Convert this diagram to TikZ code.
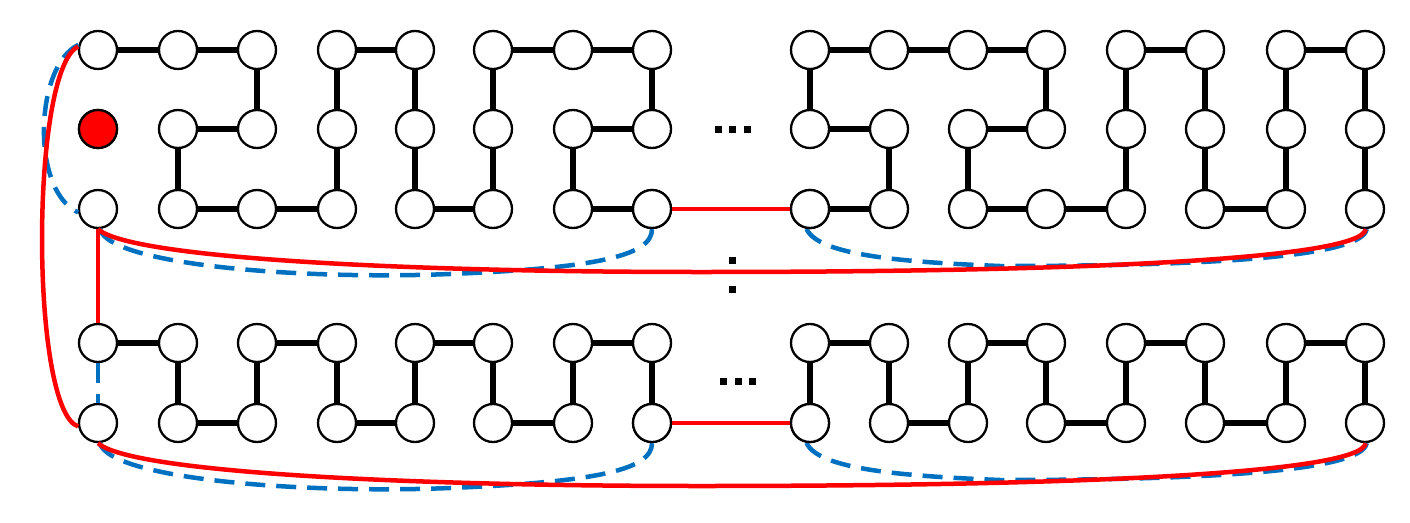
\documentclass[tikz,border=0pt]{standalone}
\begin{document}
\begin{tikzpicture}[x=1pt,y=-1pt,
  v/.style={circle,draw=black,line width=2.3pt,fill=white,minimum size=38pt,inner sep=0pt},
  e/.style={line width=6pt,black},
  rd/.style={line width=4.5pt,red},
  bl/.style={line width=4.5pt,color={rgb,255:red,0;green,112;blue,192},dash pattern=on 20pt off 11pt},
  dt/.style={fill=black,minimum size=7pt,inner sep=0pt,draw=none,rectangle}]
\useasboundingbox (0,0) rectangle (1410,522);
% column positions
\def\X{{0,98,178,257,337,415,493,573,652,810,889,968,1046,1126,1205,1286,1365}}
\def\Y{{0,50,129,209,343,423}}
\foreach \r in {1,...,5}{\foreach \c in {1,...,16}{
  \coordinate (p\r-\c) at ({\X[\c]},{\Y[\r]});}}
% black edges
\foreach \a/\b in {
 1-1/1-2,1-2/1-3,1-3/2-3,2-2/2-3,2-2/3-2,3-2/3-3,3-3/3-4,1-4/2-4,2-4/3-4,1-4/1-5,1-5/2-5,2-5/3-5,3-5/3-6,1-6/2-6,2-6/3-6,1-6/1-7,1-7/1-8,1-8/2-8,2-7/2-8,2-7/3-7,3-7/3-8,
 1-9/1-10,1-10/1-11,1-11/1-12,1-9/2-9,2-9/2-10,2-10/3-10,3-9/3-10,1-12/2-12,2-11/2-12,2-11/3-11,3-11/3-12,3-12/3-13,1-13/2-13,2-13/3-13,1-13/1-14,1-14/2-14,2-14/3-14,3-14/3-15,1-15/2-15,2-15/3-15,1-15/1-16,1-16/2-16,2-16/3-16,
 4-1/4-2,4-2/5-2,5-2/5-3,5-3/4-3,4-3/4-4,4-4/5-4,5-4/5-5,5-5/4-5,4-5/4-6,4-6/5-6,5-6/5-7,5-7/4-7,4-7/4-8,4-8/5-8,
 4-9/4-10,4-9/5-9,4-10/5-10,5-10/5-11,5-11/4-11,4-11/4-12,4-12/5-12,5-12/5-13,5-13/4-13,4-13/4-14,4-14/5-14,5-14/5-15,5-15/4-15,4-15/4-16,4-16/5-16}
 {\draw[e] (p\a) -- (p\b);}
% curve coordinates
\coordinate (m1) at (450,274);
\coordinate (m2) at (1000,266);
\coordinate (r1) at (700,272);
\coordinate (m3) at (450,488);
\coordinate (m4) at (1000,480);
\coordinate (r2) at (700,486);
% nodes
\foreach \r in {1,...,5}{\foreach \c in {1,...,16}{
  \node[v] (n\r-\c) at (p\r-\c) {};}}
\node[v,fill=red] at (n2-1) {};
% blue dashed
\draw[bl] (n1-1.165) .. controls (35,65) and (30,190) .. (n3-1.190);
\draw[bl] (n3-1.-85) .. controls (110,265) and (300,280) .. (m1) .. controls (600,268) and (652,255) .. (n3-8.-90);
\draw[bl] (n3-9.-100) .. controls (818,255) and (900,262) .. (m2) .. controls (1200,266) and (1362,258) .. (n3-16.-85);
\draw[bl] (n4-1.-90) -- (n5-1.90);
\draw[bl] (n5-1.-85) .. controls (110,479) and (300,494) .. (m3) .. controls (600,482) and (652,469) .. (n5-8.-90);
\draw[bl] (n5-9.-100) .. controls (818,469) and (900,476) .. (m4) .. controls (1200,480) and (1362,472) .. (n5-16.-85);
% red
\draw[rd] (n1-1.170) .. controls (30,70) and (30,410) .. (n5-1.190);
\draw[rd] (n3-1.-90) -- (n4-1.90);
\draw[rd] (n3-8) -- (n3-9);
\draw[rd] (n5-8) -- (n5-9);
\draw[rd] (n3-1.-90) .. controls (130,258) and (400,272) .. (r1) .. controls (1100,272) and (1362,258) .. (n3-16.-88);
\draw[rd] (n5-1.-90) .. controls (130,472) and (400,486) .. (r2) .. controls (1100,486) and (1362,472) .. (n5-16.-88);
% redraw circles touched by straight red lines
\foreach \n in {n3-8,n3-9,n5-8,n5-9}{\node[v] at (\n) {};}
% dots
\foreach \x in {718,732,747}{\node[dt] (t\x) at (\x,129) {};}
\foreach \x in {723,738,752}{\node[dt] (b\x) at (\x,381) {};}
\foreach \y in {260,289}{\node[dt] (s\y) at (732,\y) {};}
\end{tikzpicture}
\end{document}
